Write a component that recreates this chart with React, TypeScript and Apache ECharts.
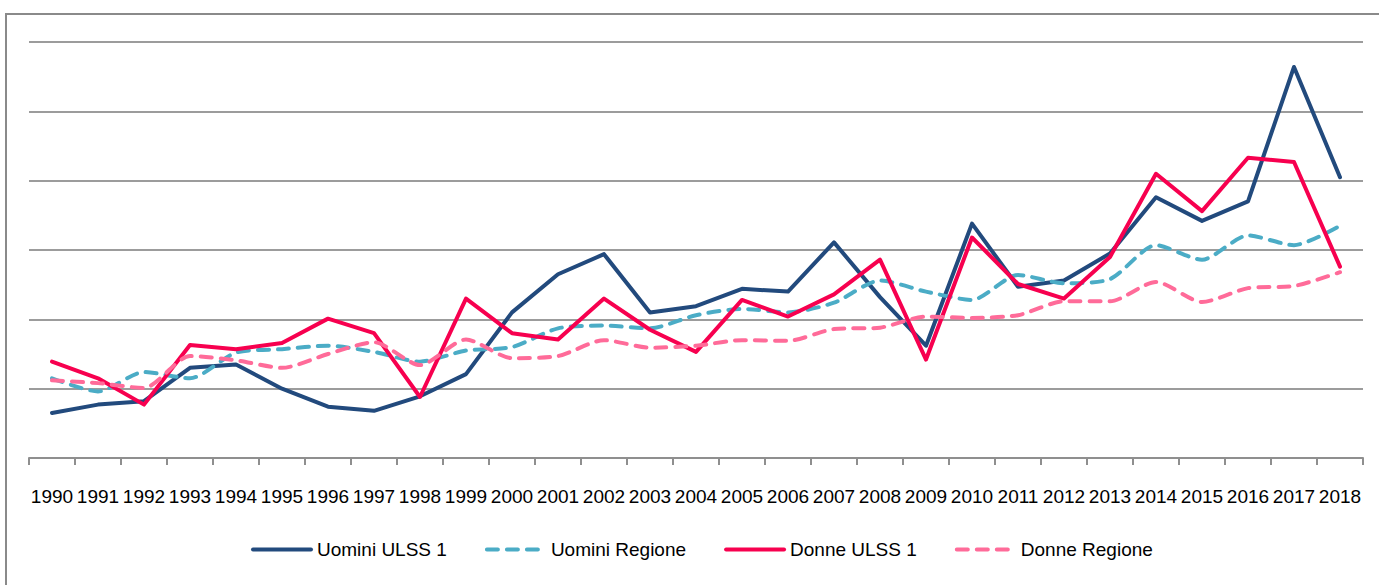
import React, { useEffect, useRef } from "react";
import * as echarts from "echarts";

const years = [
  "1990", "1991", "1992", "1993", "1994", "1995", "1996", "1997", "1998", "1999",
  "2000", "2001", "2002", "2003", "2004", "2005", "2006", "2007", "2008", "2009",
  "2010", "2011", "2012", "2013", "2014", "2015", "2016", "2017", "2018",
];

const uominiUlss = [
  6.5, 7.7, 8.2, 13.0, 13.5, 10.0, 7.4, 6.8, 8.9, 12.1,
  21.0, 26.5, 29.4, 21.0, 21.9, 24.4, 24.0, 31.1, 23.2, 16.2,
  33.8, 24.7, 25.6, 29.5, 37.6, 34.2, 37.0, 56.4, 40.5,
];

const uominiRegione = [
  11.5, 9.6, 12.4, 11.5, 15.2, 15.7, 16.2, 15.3, 13.9, 15.5,
  16.0, 18.7, 19.1, 18.7, 20.6, 21.5, 21.0, 22.4, 25.6, 24.0,
  22.8, 26.4, 25.2, 25.8, 30.7, 28.6, 32.1, 30.7, 33.5,
];

const donneUlss = [
  13.9, 11.5, 7.7, 16.3, 15.7, 16.6, 20.1, 18.0, 8.8, 23.0,
  18.0, 17.1, 23.0, 18.5, 15.3, 22.8, 20.4, 23.6, 28.6, 14.2,
  31.8, 25.1, 23.0, 29.0, 41.0, 35.6, 43.3, 42.7, 27.6,
];

const donneRegione = [
  11.2, 10.8, 10.1, 14.7, 14.1, 13.0, 15.0, 16.7, 13.4, 17.1,
  14.4, 14.7, 17.0, 15.9, 16.2, 17.0, 16.9, 18.6, 18.8, 20.4,
  20.2, 20.6, 22.6, 22.6, 25.4, 22.5, 24.5, 24.8, 26.8,
];

const seriesNames = ["Uomini ULSS 1", "Uomini Regione", "Donne ULSS 1", "Donne Regione"];

const FONT = "'Liberation Sans', Arial, sans-serif";

export default function App() {
  const ref = useRef<HTMLDivElement>(null);

  useEffect(() => {
    if (!ref.current) return;
    const chart = echarts.init(ref.current, undefined, { renderer: "svg" });
    const solid = (color: string) => ({ color, width: 4, type: "solid" as const, cap: "round" as const, join: "round" as const });
    const dashed = (color: string) => ({ color, width: 4, type: [11, 9] as number[], cap: "round" as const, join: "round" as const });
    chart.setOption({
      animation: false,
      backgroundColor: "#ffffff",
      textStyle: { fontFamily: FONT },
      graphic: [
        {
          type: "rect",
          z: -10,
          shape: { x: 6, y: 14, width: 1500, height: 700 },
          style: { fill: "none", stroke: "#8a8a8a", lineWidth: 2 },
        },
      ],
      grid: { left: 29, right: 16, top: 42, bottom: 127, containLabel: false },
      legend: {
        left: 251,
        top: 540,
        padding: 0,
        itemWidth: 58,
        itemHeight: 20,
        itemGap: 38,
        itemStyle: { opacity: 0 },
        lineStyle: { width: 4 },
        textStyle: { fontFamily: FONT, fontSize: 19, color: "#000", padding: [0, 0, 0, 1] },
        data: seriesNames,
      },
      xAxis: {
        type: "category",
        data: years,
        boundaryGap: true,
        axisLine: { show: true, lineStyle: { color: "#8f8f8f", width: 2 } },
        axisTick: { show: true, length: 7, lineStyle: { color: "#8f8f8f", width: 2 } },
        axisLabel: { fontFamily: FONT, fontSize: 19, color: "#000", margin: 29, interval: 0 },
      },
      yAxis: {
        type: "value",
        min: 0,
        max: 60,
        interval: 10,
        axisLabel: { show: false },
        axisLine: { show: false },
        axisTick: { show: false },
        splitLine: { show: true, lineStyle: { color: "#9c9c9c", width: 2 } },
      },
      series: [
        {
          name: seriesNames[0],
          type: "line",
          data: uominiUlss,
          symbol: "none",
          lineStyle: solid("#224a7d"),
          itemStyle: { color: "#224a7d" },
        },
        {
          name: seriesNames[1],
          type: "line",
          data: uominiRegione,
          symbol: "none",
          smooth: 0.25,
          lineStyle: dashed("#4bacc6"),
          itemStyle: { color: "#4bacc6" },
        },
        {
          name: seriesNames[2],
          type: "line",
          data: donneUlss,
          symbol: "none",
          lineStyle: solid("#f7004f"),
          itemStyle: { color: "#f7004f" },
        },
        {
          name: seriesNames[3],
          type: "line",
          data: donneRegione,
          symbol: "none",
          smooth: 0.25,
          lineStyle: dashed("#ff6b99"),
          itemStyle: { color: "#ff6b99" },
        },
      ],
    });
    return () => chart.dispose();
  }, []);

  return (
    <div
      ref={ref}
      style={{ position: "fixed", left: 0, top: 0, width: 1379, height: 585, background: "#fff" }}
    />
  );
}
